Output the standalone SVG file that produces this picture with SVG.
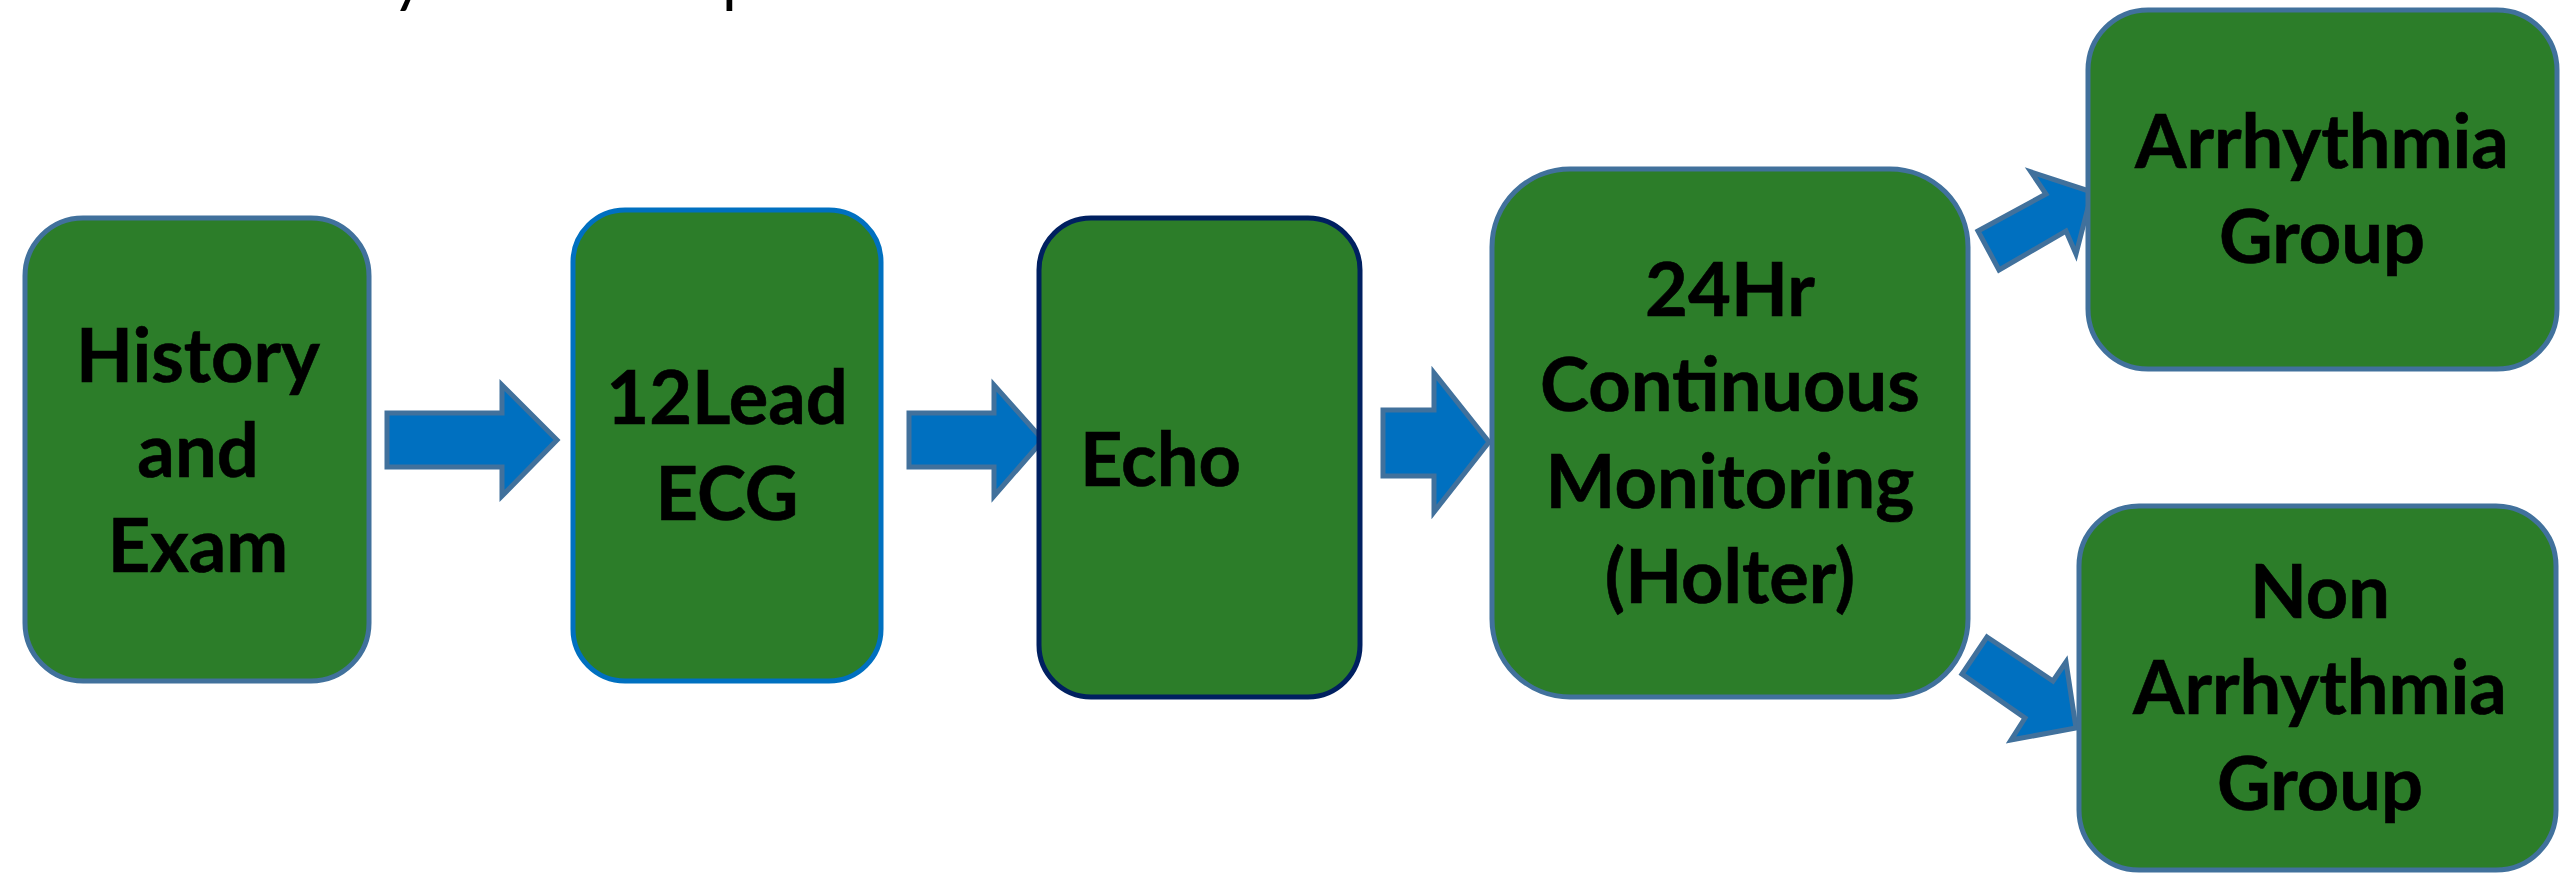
<svg xmlns="http://www.w3.org/2000/svg" width="2560" height="874" viewBox="0 0 2560 874">
  <style>
    .box { fill: #2C7D29; stroke-width: 5; }
    .slate { stroke: #41719C; }
    .blue { stroke: #0070C0; }
    .navy { stroke: #002060; }
    .label { font-family: Lato, "Liberation Sans", sans-serif; font-weight: bold; font-size: 74px; fill: #000000; stroke: #000000; stroke-width: 0.6; text-anchor: middle; }
    .title { font-family: Lato, "Liberation Sans", sans-serif; font-size: 64px; fill: #000000; }
    .arrow { fill: #0070C0; stroke: #41719C; stroke-width: 5; stroke-linejoin: miter; }
  </style>

  <!-- heading line, clipped at the top edge -->
  <g id="heading">
    <text class="title" x="392" y="0">y</text>
    <text class="title" x="722" y="0">p</text>
  </g>

  <g id="connectors">
    <polygon class="arrow" points="387,413 502,413 502,385 557,440 502,496 502,467 387,467"/>
    <polygon class="arrow" points="909,413 994,413 994,385 1043,440 994,496 994,467 909,467"/>
    <polygon class="arrow" points="1383,410 1434,410 1434,373 1489,442 1434,512 1434,476 1383,476"/>
    <polygon class="arrow" points="1978,231 2046,194 2031,172 2092,192 2076,254 2066,231 1999,270"/>
    <polygon class="arrow" points="1987,637 2053,681 2066,662 2076,728 2011,740 2025,718 1962,674"/>
  </g>

  <g id="history">
    <rect class="box slate" x="25" y="218" width="344" height="463" rx="58" ry="58"/>
    <text class="label" x="198" y="382">History</text>
    <text class="label" x="198" y="477">and</text>
    <text class="label" x="198" y="572">Exam</text>
  </g>

  <g id="ecg">
    <rect class="box blue" x="573" y="210" width="308" height="471" rx="52" ry="52"/>
    <text class="label" x="727" y="424">12Lead</text>
    <text class="label" x="727" y="520">ECG</text>
  </g>

  <g id="echo">
    <rect class="box navy" x="1039" y="218" width="321" height="479" rx="52" ry="52"/>
    <text class="label" x="1080" y="486" style="text-anchor:start">Echo</text>
  </g>

  <g id="holter">
    <rect class="box slate" x="1492" y="169" width="476" height="528" rx="78" ry="78"/>
    <text class="label" x="1730" y="316">24Hr</text>
    <text class="label" x="1730" y="411">Continuous</text>
    <text class="label" x="1730" y="508">Monitoring</text>
    <text class="label" x="1730" y="603">(Holter)</text>
  </g>

  <g id="arrhythmia">
    <rect class="box slate" x="2088" y="10" width="469" height="359" rx="60" ry="60"/>
    <text class="label" x="2322" y="168">Arrhythmia</text>
    <text class="label" x="2322" y="263">Group</text>
  </g>

  <g id="non-arrhythmia">
    <rect class="box slate" x="2079" y="506" width="477" height="364" rx="60" ry="60"/>
    <text class="label" x="2320" y="618">Non</text>
    <text class="label" x="2320" y="714">Arrhythmia</text>
    <text class="label" x="2320" y="810">Group</text>
  </g>
</svg>
